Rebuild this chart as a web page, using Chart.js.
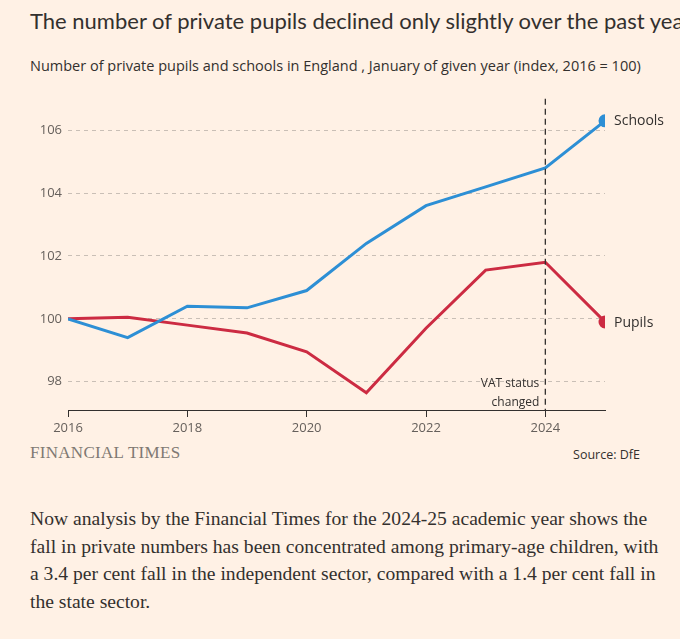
<!DOCTYPE html>
<html><head><meta charset="utf-8">
<script src="https://cdn.jsdelivr.net/npm/chart.js@4"></script>
<style>
body{margin:0;background:#fff1e5;width:680px;height:639px;overflow:hidden;font-family:"Open Sans",Lato,sans-serif;position:relative}
#t{position:absolute;left:30px;top:7px;font-family:Lato,sans-serif;font-size:22px;color:#33302e;white-space:nowrap}
#s{position:absolute;left:30px;top:56px;font-size:14.5px;color:#33302e;white-space:nowrap}
#ft{position:absolute;left:30px;top:443px;font-family:"Liberation Serif",serif;font-size:17px;color:#807973;letter-spacing:0.3px}
#src{position:absolute;right:40px;top:446px;font-size:12.5px;color:#33302e}
#p{position:absolute;left:30px;top:505px;width:640px;font-family:"Liberation Serif","DejaVu Serif",serif;font-size:19.6px;line-height:27.5px;color:#33302e}
</style></head><body>
<div id="t">The number of private pupils declined only slightly over the past year</div>
<div id="s">Number of private pupils and schools in England , January of given year (index, 2016 = 100)</div>
<div style="position:absolute;left:0;top:85px;width:680px;height:355px"><canvas id="c" width="680" height="355"></canvas></div>
<div id="ft">FINANCIAL TIMES</div>
<div id="src">Source: DfE</div>
<div id="p">Now analysis by the Financial Times for the 2024-25 academic year shows the fall in private numbers has been concentrated among primary-age children, with a 3.4 per cent fall in the independent sector, compared with a 1.4 per cent fall in the state sector.</div>
<script>
const years=[2016,2017,2018,2019,2020,2021,2022,2023,2024,2025];
const schools=[100,99.4,100.4,100.35,100.9,102.4,103.6,104.2,104.8,106.3];
const pupils=[100,100.05,99.8,99.55,98.95,97.65,99.7,101.55,101.8,99.9];
const yTicks=[98,100,102,104,106];
const xTicks=[2016,2018,2020,2022,2024];
const BLUE='#2d8fd5',RED='#cc2b42';
const ann={id:'ann',afterDatasetsDraw(ch){
 const c=ch.ctx,x=ch.scales.x,y=ch.scales.y,a=ch.chartArea;
 const px=x.getPixelForValue(2024);
 c.save();c.strokeStyle='#33302e';c.lineWidth=1.3;c.setLineDash([6,4]);
 c.beginPath();c.moveTo(px,a.top);c.lineTo(px,a.bottom);c.stroke();c.setLineDash([]);
 c.fillStyle='#33302e';c.font='12px "Open Sans"';c.textAlign='right';
 c.fillText('VAT status',px-6,y.getPixelForValue(98)+5);
 c.fillText('changed',px-6,y.getPixelForValue(98)+24);
 c.font='14px "Open Sans"';c.textAlign='left';
 const last=years.length-1,lx=x.getPixelForValue(years[last]);
 c.fillText('Schools',lx+9,y.getPixelForValue(schools[last])+4);
 c.fillText('Pupils',lx+9,y.getPixelForValue(pupils[last])+5);
 c.restore();}};
new Chart(document.getElementById('c'),{type:'line',
 data:{datasets:[
 {data:years.map((v,i)=>({x:v,y:schools[i]})),borderColor:BLUE,backgroundColor:BLUE,borderWidth:3,pointRadius:years.map((v,i)=>i==years.length-1?5:0),pointHoverRadius:0,tension:0},
 {data:years.map((v,i)=>({x:v,y:pupils[i]})),borderColor:RED,backgroundColor:RED,borderWidth:3,pointRadius:years.map((v,i)=>i==years.length-1?5:0),pointHoverRadius:0,tension:0}]},
 options:{responsive:false,animation:false,layout:{padding:{top:7,right:75,left:0,bottom:0}},
 plugins:{legend:{display:false},tooltip:{enabled:false}},
 scales:{
  x:{type:'linear',min:2016,max:2025,afterBuildTicks:s=>{s.ticks=xTicks.map(v=>({value:v}))},
   ticks:{color:'#66605c',font:{size:13,family:'Open Sans'},callback:v=>String(v)},
   grid:{display:true,drawOnChartArea:false,drawTicks:true,tickLength:7,color:'#33302e'},
   border:{display:true,color:'#33302e',width:1},afterFit:s=>{s.height=30}},
  y:{min:97.1,max:107,afterBuildTicks:s=>{s.ticks=yTicks.map(v=>({value:v}))},
   ticks:{color:'#66605c',font:{size:13,family:'Open Sans'},padding:6},
   grid:{color:'#c9bfb6',drawTicks:false},border:{display:false,dash:[4,4]},afterFit:s=>{s.width=68}}}},
 plugins:[ann]});
</script></body></html>
